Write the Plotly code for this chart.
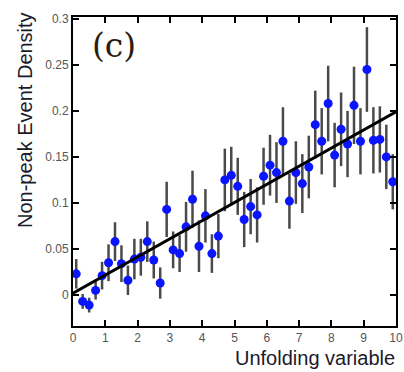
import plotly.graph_objects as go

x_vals = [0.1, 0.3, 0.5, 0.7, 0.9, 1.1, 1.3, 1.5, 1.7, 1.9,
          2.1, 2.3, 2.5, 2.7, 2.9, 3.1, 3.3, 3.5, 3.7, 3.9,
          4.1, 4.3, 4.5, 4.7, 4.9, 5.1, 5.3, 5.5, 5.7, 5.9,
          6.1, 6.3, 6.5, 6.7, 6.9, 7.1, 7.3, 7.5, 7.7, 7.9,
          8.1, 8.3, 8.5, 8.7, 8.9, 9.1, 9.3, 9.5, 9.7, 9.9]
y_vals = [0.023, -0.007, -0.011, 0.005, 0.021, 0.035, 0.058, 0.034, 0.016, 0.039,
          0.041, 0.058, 0.038, 0.013, 0.093, 0.049, 0.045, 0.074, 0.104, 0.053,
          0.086, 0.045, 0.064, 0.125, 0.130, 0.118, 0.082, 0.096, 0.087, 0.129,
          0.141, 0.133, 0.167, 0.102, 0.133, 0.121, 0.139, 0.185, 0.167, 0.208,
          0.152, 0.180, 0.164, 0.206, 0.167, 0.245, 0.168, 0.169, 0.150, 0.123]
y_err = [0.016, 0.008, 0.008, 0.010, 0.015, 0.020, 0.021, 0.020, 0.016, 0.022,
         0.020, 0.022, 0.020, 0.017, 0.030, 0.020, 0.020, 0.027, 0.031, 0.028,
         0.029, 0.021, 0.024, 0.034, 0.031, 0.031, 0.030, 0.030, 0.030, 0.031,
         0.033, 0.033, 0.037, 0.030, 0.034, 0.032, 0.034, 0.037, 0.036, 0.041,
         0.035, 0.040, 0.036, 0.042, 0.036, 0.046, 0.036, 0.036, 0.035, 0.030]
fit_x = [0, 10]
fit_y = [0.002, 0.199]
x_ticks = [0, 1, 2, 3, 4, 5, 6, 7, 8, 9, 10]
y_ticks = [0, 0.05, 0.1, 0.15, 0.2, 0.25, 0.3]
y_tick_text = ["0", "0.05", "0.1", "0.15", "0.2", "0.25", "0.3"]

fig = go.Figure()
fig.add_trace(go.Scatter(
    x=x_vals, y=y_vals, mode="markers",
    error_y=dict(type="data", array=y_err, color="#4a4a4a", thickness=2.5, width=0),
    marker=dict(color="#0a14ff", size=9),
    showlegend=False,
))
fig.add_trace(go.Scatter(
    x=fit_x, y=fit_y, mode="lines",
    line=dict(color="black", width=3),
    showlegend=False,
))

axis_common = dict(
    showline=True, linecolor="black", linewidth=2, mirror="ticks",
    ticks="inside", ticklen=6, tickwidth=2, tickcolor="black",
    showgrid=False, zeroline=False, ticklabeloverflow="allow",
    tickfont=dict(family="Arial, Liberation Sans, sans-serif", size=12, color="#555"),
)
fig.update_xaxes(range=[0, 10], tickvals=x_ticks, **axis_common)
fig.update_yaxes(range=[-0.0337, 0.302], tickvals=y_ticks, ticktext=y_tick_text, **axis_common)

fig.add_annotation(
    text="Unfolding variable", xref="paper", yref="paper",
    x=1.0, y=(326 - 358) / 309, xanchor="right", yanchor="middle", showarrow=False,
    borderpad=0,
    font=dict(family="Arial, Liberation Sans, sans-serif", size=20, color="#1a1a2a"),
)
fig.add_annotation(
    text="Non-peak Event Density", xref="paper", yref="paper",
    x=(24 - 73) / 330, y=(326 - 120) / 309, xanchor="center", yanchor="middle",
    textangle=-90, showarrow=False,
    font=dict(family="Arial, Liberation Sans, sans-serif", size=20, color="#1a1a2a"),
)
fig.add_annotation(
    text="(c)", xref="paper", yref="paper",
    x=(115 - 73) / 330, y=(326 - 45) / 309, xanchor="center", yanchor="middle",
    showarrow=False,
    font=dict(family="DejaVu Serif, Liberation Serif, serif", size=33, color="#2b1d0e"),
)

fig.update_layout(
    width=404, height=372,
    margin=dict(l=73, r=1, t=17, b=46),
    paper_bgcolor="white", plot_bgcolor="white",
)
fig.write_html("out.html")
